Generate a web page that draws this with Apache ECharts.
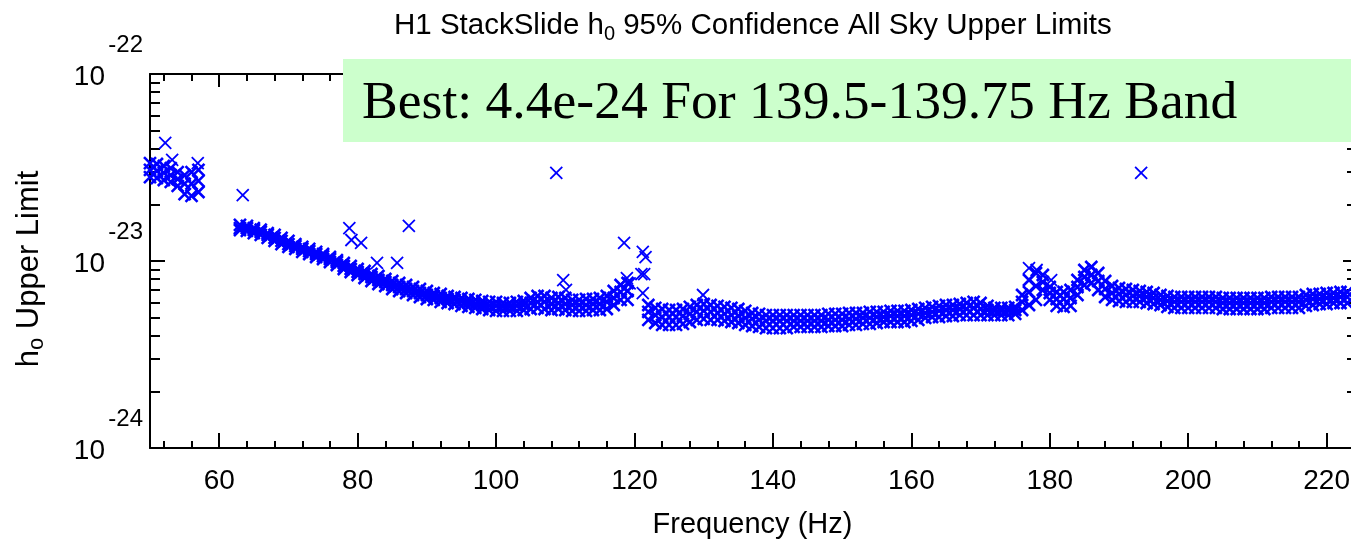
<!DOCTYPE html>
<html>
<head>
<meta charset="utf-8">
<script src="https://cdn.jsdelivr.net/npm/echarts@6/dist/echarts.min.js"></script>
<style>
  html, body { margin: 0; padding: 0; background: #fff; }
  #container { width: 1351px; height: 545px; }
</style>
</head>
<body>
<div id="container"></div>
<script>
// frequency (Hz) of each band column, and upper / middle / lower edge of the
// band of upper limits, in units of 1e-24
var bandFreq = [50,51,52,53,54,55,56,57,
  63,64,65,66,67,68,69,70,71,72,73,74,75,76,77,78,79,80,81,82,83,84,85,86,87,88,89,90,
  91,92,93,94,95,96,97,98,99,100,101,102,103,104,105,106,107,108,109,110,111,112,113,
  114,115,116,117,118,119,
  122,123,124,125,126,127,128,129,130,131,132,133,134,135,136,137,138,139,140,141,142,
  143,144,145,146,147,148,149,150,151,152,153,154,155,156,157,158,159,160,161,162,163,
  164,165,166,167,168,169,170,171,172,173,174,175,176,177,178,179,180,181,182,183,184,
  185,186,187,188,189,190,191,192,193,194,195,196,197,198,199,200,201,202,203,204,205,
  206,207,208,209,210,211,212,213,214,215,216,217,218,219,220,221,222,223];

var bandTop = [33.4,33.0,32.2,31.4,29.9,28.8,29.9,30.7,
  15.6,15.4,15.0,14.7,14.1,13.8,13.3,12.8,12.3,11.9,
  11.6,11.2,10.9,10.5,10.1,9.76,9.40,9.06,8.84,8.52,
  8.31,8.01,7.82,7.63,7.44,7.26,7.08,6.91,6.74,6.66,
  6.50,6.42,6.34,6.26,6.19,6.11,6.04,6.04,5.96,5.96,
  6.04,6.11,6.34,6.50,6.50,6.34,6.42,6.34,6.19,6.19,
  6.26,6.26,6.34,6.50,6.91,7.44,7.63,
  5.82,5.61,5.54,5.47,5.47,5.54,5.68,5.82,5.89,5.82,
  5.75,5.68,5.61,5.54,5.41,5.27,5.21,5.14,5.14,5.14,
  5.14,5.14,5.14,5.14,5.14,5.14,5.21,5.21,5.21,5.27,
  5.27,5.27,5.34,5.34,5.34,5.41,5.41,5.41,5.47,5.54,
  5.61,5.68,5.75,5.82,5.82,5.89,5.96,6.04,5.96,5.75,
  5.61,5.61,5.61,5.68,6.58,7.91,8.63,8.42,7.26,6.83,
  6.83,7.00,7.91,8.95,9.29,8.63,7.82,7.35,7.17,7.08,
  7.00,6.91,6.83,6.74,6.58,6.50,6.42,6.42,6.42,6.42,
  6.42,6.42,6.42,6.34,6.34,6.34,6.34,6.34,6.34,6.34,
  6.42,6.42,6.42,6.42,6.42,6.58,6.66,6.66,6.74,6.74,
  6.83,6.83];

var bandMid = [30.7,30.3,29.6,28.8,27.4,25.9,25.9,26.8,
  15.0,15.0,14.65,14.3,13.8,13.3,12.8,12.3,12.0,11.6,
  11.3,10.9,10.6,10.25,9.88,9.40,9.06,8.73,8.52,8.21,
  7.91,7.72,7.44,7.26,7.08,6.91,6.74,6.58,6.50,6.34,
  6.26,6.19,6.04,5.96,5.89,5.82,5.75,5.75,5.68,5.68,
  5.75,5.82,5.96,6.04,6.04,5.89,5.96,5.89,5.82,5.82,
  5.82,5.89,5.89,6.04,6.34,6.83,6.91,
  5.34,5.14,5.02,5.02,5.02,5.08,5.21,5.34,5.41,5.34,
  5.27,5.21,5.14,5.08,4.96,4.90,4.84,4.78,4.78,4.78,
  4.78,4.78,4.78,4.78,4.78,4.78,4.84,4.84,4.84,4.90,
  4.90,4.96,4.96,5.02,5.02,5.08,5.08,5.08,5.14,5.21,
  5.27,5.34,5.41,5.47,5.47,5.54,5.54,5.61,5.54,5.47,
  5.41,5.41,5.41,5.47,6.04,6.83,7.35,7.72,6.74,6.26,
  6.26,6.34,7.26,8.21,8.42,7.82,7.08,6.74,6.66,6.58,
  6.50,6.50,6.42,6.34,6.19,6.11,6.04,6.04,6.04,6.04,
  6.04,6.04,6.04,5.96,5.96,5.96,5.96,5.96,5.96,5.96,
  6.04,6.04,6.04,6.04,6.04,6.19,6.26,6.26,6.34,6.34,
  6.42,6.42];

var bandBot = [28.1,27.8,27.1,26.5,25.2,22.8,22.3,23.4,
  14.65,14.5,14.1,13.8,13.3,12.8,12.3,11.9,11.6,11.2,
  10.9,10.5,10.25,9.88,9.52,9.06,8.73,8.42,8.11,7.82,
  7.53,7.35,7.08,6.91,6.74,6.58,6.42,6.26,6.19,6.04,
  5.96,5.89,5.75,5.68,5.61,5.54,5.47,5.41,5.41,5.41,
  5.41,5.47,5.54,5.61,5.54,5.47,5.54,5.47,5.41,5.41,
  5.41,5.47,5.47,5.54,5.82,6.19,6.19,
  4.84,4.66,4.55,4.55,4.55,4.61,4.72,4.84,4.90,4.84,
  4.84,4.78,4.72,4.66,4.55,4.49,4.44,4.38,4.38,4.38,
  4.38,4.44,4.44,4.44,4.44,4.44,4.49,4.49,4.49,4.55,
  4.55,4.61,4.61,4.66,4.72,4.72,4.72,4.72,4.78,4.84,
  4.96,5.02,5.02,5.08,5.08,5.14,5.14,5.14,5.14,5.14,
  5.14,5.14,5.14,5.21,5.47,5.82,6.19,7.00,6.19,5.75,
  5.68,5.75,6.58,7.44,7.63,7.00,6.42,6.19,6.11,6.04,
  6.04,6.04,5.96,5.89,5.82,5.68,5.61,5.61,5.61,5.61,
  5.61,5.61,5.61,5.54,5.54,5.54,5.54,5.54,5.54,5.54,
  5.61,5.61,5.61,5.61,5.61,5.75,5.82,5.89,5.89,5.96,
  5.96,5.96];

// isolated crosses away from the band
var outFreq = [52.2,53.2,56.9,63.4,78.8,79.1,80.5,82.8,85.7,87.4,108.7,109.7,110.1,
  118.5,118.9,119.3,121.0,121.2,121.4,121.6,121.2,129.9,177.0,178.1,180.2,193.2];
var outVal = [42.8,34.7,33.4,22.5,15.0,12.95,12.5,9.76,9.76,15.4,29.6,7.91,7.0,
  12.5,8.1,7.6,8.5,11.2,8.5,10.5,6.74,6.58,9.17,8.95,7.91,29.6];

var xMajor = [60,80,100,120,140,160,180,200,220];
var xMinor = [52,56,64,68,72,76,84,88,92,96,104,108,112,116,124,128,132,136,
  144,148,152,156,164,168,172,176,184,188,192,196,204,208,212,216];
var yMajor = [1,10,100];
var yMinor = [2,3,4,5,6,7,8,9,20,30,40,50,60,70,80,90];

var dom = document.getElementById('container');
var myChart = echarts.init(dom, null, {renderer: 'canvas'});

var font = '"Liberation Sans", Arial, Helvetica, sans-serif';
var xMin = 50, xMax = 224.1;

var bandPoints = [];
for (var i = 0; i < bandFreq.length; i++) {
    bandPoints.push([bandFreq[i], bandTop[i]]);
    bandPoints.push([bandFreq[i], bandMid[i]]);
    bandPoints.push([bandFreq[i], bandBot[i]]);
}
var outPoints = [];
for (var j = 0; j < outFreq.length; j++) {
    outPoints.push([outFreq[j], outVal[j]]);
}

var line = {show: true, lineStyle: {color: '#000', width: 2}};

var xAxisOf = function(pos, ticks, len, main){
    return {
        type: 'value', min: xMin, max: xMax, position: pos,
        axisLine: main ? line : {show: false},
        splitLine: {show: false},
        axisTick: {show: true, inside: true, length: len, customValues: ticks,
                   lineStyle: {color: '#000', width: 2}},
        axisLabel: {show: false, customValues: ticks}
    };
};
var yAxisOf = function(pos, ticks, len, main){
    return {
        type: 'log', logBase: 10, min: 1, max: 100, position: pos,
        axisLine: main ? line : {show: false},
        splitLine: {show: false},
        minorTick: {show: false},
        axisTick: {show: true, inside: true, length: len, customValues: ticks,
                   lineStyle: {color: '#000', width: 2}},
        axisLabel: {show: false, customValues: ticks}
    };
};

var xBottom = xAxisOf('bottom', xMajor, 15, true);
xBottom.axisLabel = {
    show: true, customValues: xMajor, color: '#000', fontFamily: font,
    fontSize: 28, margin: 19
};
xBottom.name = 'Frequency (Hz)';
xBottom.nameLocation = 'middle';
xBottom.nameGap = 62;
xBottom.nameTextStyle = {color: '#000', fontFamily: font, fontSize: 29};

var yLeft = yAxisOf('left', yMajor, 15, true);
yLeft.axisLabel = {
    show: true, customValues: yMajor, margin: 7, color: '#000',
    formatter: function(v){
        return '{e|' + (Math.round(Math.log10(v)) - 24) + '}\n{b|10}';
    },
    rich: {
        e: {fontFamily: font, fontSize: 24, lineHeight: 6, color: '#000'},
        b: {fontFamily: font, fontSize: 28, lineHeight: 58, color: '#000', padding: [0, 38, 0, 0]}
    }
};
yLeft.name = 'h{s|o} Upper Limit';
yLeft.nameLocation = 'middle';
yLeft.nameRotate = 90;
yLeft.nameGap = 103;
yLeft.nameTextStyle = {
    color: '#000', fontFamily: font, fontSize: 31, lineHeight: 36,
    padding: [0, 16, 0, 0],
    rich: {s: {fontFamily: font, fontSize: 22, color: '#000', lineHeight: 22, padding: [16, 0, 0, 0]}}
};

var cross = 'path://M0,0L10,10M0,10L10,0';

option = {
    animation: false,
    backgroundColor: '#fff',
    title: {
        text: 'H1 StackSlide h{s|0} 95% Confidence All Sky Upper Limits',
        left: 389,
        top: 3,
        textStyle: {
            color: '#000', fontFamily: font, fontSize: 29.5, fontWeight: 'normal', lineHeight: 36,
            rich: {s: {fontFamily: font, fontSize: 20, color: '#000', lineHeight: 20, padding: [17, 0, 0, 0]}}
        }
    },
    grid: {left: 150, right: -4, top: 74, bottom: 97, containLabel: false, outerBoundsMode: 'none'},
    xAxis: [
        xBottom,
        xAxisOf('top', xMajor, 13, true),
        xAxisOf('bottom', xMinor, 7, false),
        xAxisOf('top', xMinor, 7, false)
    ],
    yAxis: [
        yLeft,
        yAxisOf('right', yMajor, 12, true),
        yAxisOf('left', yMinor, 10, false),
        yAxisOf('right', yMinor, 8, false)
    ],
    graphic: [
        {type: 'rect', z: 100, shape: {x: 343, y: 59, width: 1008, height: 83},
         style: {fill: '#ccffcc'}},
        {type: 'text', z: 101, x: 362, y: 104,
         style: {text: 'Best: 4.4e-24 For 139.5-139.75 Hz Band', fill: '#000',
                 font: '53.6px "Liberation Serif", "Times New Roman", serif',
                 verticalAlign: 'middle'}}
    ],
    series: [{
        name: 'band',
        type: 'scatter',
        symbol: cross,
        symbolSize: 12,
        silent: true,
        itemStyle: {color: 'rgba(0,0,0,0)', borderColor: '#0000ff', borderWidth: 2.6, opacity: 1},
        data: bandPoints
    }, {
        name: 'outliers',
        type: 'scatter',
        symbol: cross,
        symbolSize: 12,
        silent: true,
        itemStyle: {color: 'rgba(0,0,0,0)', borderColor: '#0000ff', borderWidth: 1.8, opacity: 1},
        data: outPoints
    }]
};

myChart.setOption(option, true);
</script>
</body>
</html>
